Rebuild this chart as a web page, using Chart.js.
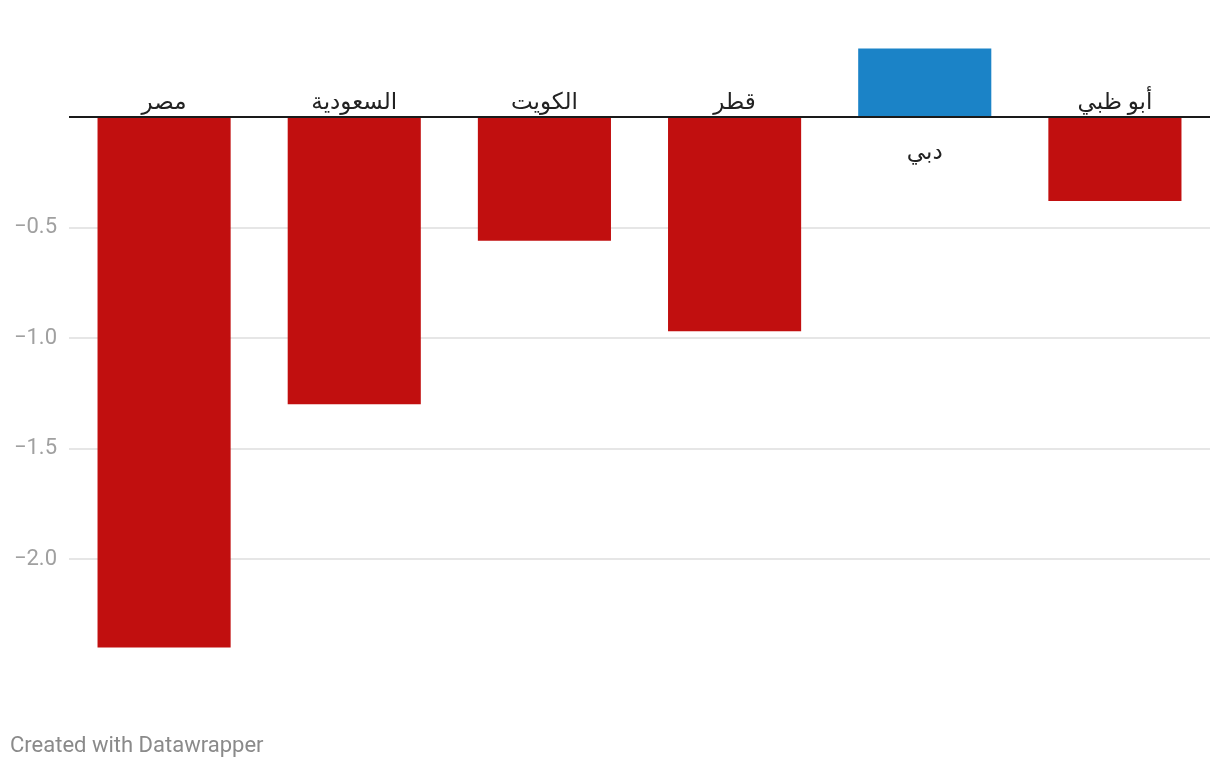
<!DOCTYPE html>
<html><head><meta charset="utf-8">
<script src="https://cdn.jsdelivr.net/npm/chart.js@4"></script>
<style>html,body{margin:0;padding:0;background:#fff;}#wrap{width:1220px;height:768px;position:relative;}</style>
</head><body><div id="wrap"><canvas id="c" width="1220" height="768"></canvas></div>
<script>
const categories = ["مصر", "السعودية", "الكويت", "قطر", "دبي", "أبو ظبي"];
const values = [-2.40, -1.30, -0.56, -0.97, 0.31, -0.38];
const yTicks = [-2.0, -1.5, -1.0, -0.5];
const footerText = "Created with Datawrapper";

const RED = "#c10f0f", BLUE = "#1b83c7";
const colors = values.map(v => v >= 0 ? BLUE : RED);

const labelPlugin = {
  id: 'labels',
  afterDatasetsDraw(chart) {
    const ctx = chart.ctx, y = chart.scales.y, x = chart.scales.x, ca = chart.chartArea;
    const y0 = y.getPixelForValue(0);
    ctx.save();
    ctx.strokeStyle = "#1a1a1a"; ctx.lineWidth = 2;
    ctx.beginPath(); ctx.moveTo(ca.left, y0); ctx.lineTo(ca.right, y0); ctx.stroke();
    ctx.font = "23px Roboto, 'DejaVu Sans', sans-serif";
    ctx.fillStyle = "#222";
    ctx.textAlign = "center";
    ctx.textBaseline = "alphabetic";
    categories.forEach((c, i) => {
      const px = x.getPixelForValue(i);
      if (values[i] < 0) ctx.fillText(c, px, y0 - 8);
      else ctx.fillText(c, px, y0 + 42);
    });
    ctx.font = "22px Roboto, sans-serif";
    ctx.fillStyle = "#8a8a8a";
    ctx.textAlign = "left";
    ctx.fillText(footerText, 10, 752);
    ctx.restore();
  }
};

new Chart(document.getElementById('c'), {
  type: 'bar',
  data: { labels: categories, datasets: [{ data: values, backgroundColor: colors, borderWidth: 0, categoryPercentage: 1, barPercentage: 0.7 }] },
  options: {
    responsive: false, animation: false,
    layout: { padding: { left: 0, right: 10, top: 6.5, bottom: 98.5 } },
    plugins: { legend: { display: false }, tooltip: { enabled: false } },
    scales: {
      x: { display: false },
      y: {
        min: -2.5, max: 0.5,
        afterFit(s) { s.width = 69; s.paddingTop = 0; s.paddingBottom = 0; },
        afterBuildTicks(s) { s.ticks = yTicks.map(v => ({ value: v })); },
        border: { display: false },
        grid: { color: "#e6e6e6", lineWidth: 2, drawTicks: false },
        ticks: {
          padding: 12, color: "#a0a0a0",
          font: { family: "Roboto", size: 22 },
          callback: v => (v < 0 ? "\u2212" : "") + Math.abs(v).toFixed(1)
        }
      }
    }
  },
  plugins: [labelPlugin]
});
</script></body></html>
